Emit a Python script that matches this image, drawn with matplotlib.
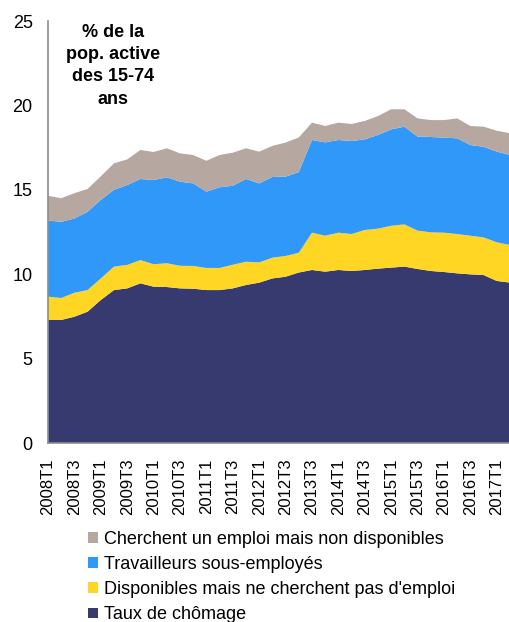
import matplotlib
matplotlib.use("Agg")
import matplotlib.pyplot as plt
from matplotlib.patches import Patch

plt.rcParams['font.family'] = ['Liberation Sans', 'DejaVu Sans']

# quarters (a gap in the source around the 2013 series break)
quarters = ['2008T1', '2008T2', '2008T3', '2008T4',
            '2009T1', '2009T2', '2009T3', '2009T4',
            '2010T1', '2010T2', '2010T3', '2010T4',
            '2011T1', '2011T2', '2011T3', '2011T4',
            '2012T1', '2012T2', '2012T3', '2012T4',
            '2013T3', '2013T4',
            '2014T1', '2014T2', '2014T3', '2014T4',
            '2015T1', '2015T2', '2015T3', '2015T4',
            '2016T1', '2016T2', '2016T3', '2016T4',
            '2017T1', '2017T2']

# % de la population active des 15-74 ans
chomage = [7.29, 7.29, 7.48, 7.78, 8.47, 9.06, 9.16, 9.46, 9.26, 9.24, 9.16, 9.14,
           9.06, 9.06, 9.16, 9.36, 9.50, 9.75, 9.85, 10.10, 10.25, 10.15, 10.25, 10.19,
           10.25, 10.33, 10.39, 10.45, 10.31, 10.19, 10.13, 10.05, 9.99, 9.95, 9.60, 9.50]
dispo_sans_recherche = [1.38, 1.30, 1.42, 1.28, 1.28, 1.39, 1.39, 1.38, 1.33, 1.41, 1.34, 1.35,
                        1.31, 1.31, 1.40, 1.38, 1.20, 1.23, 1.23, 1.17, 2.21, 2.13, 2.21, 2.19,
                        2.37, 2.37, 2.48, 2.50, 2.27, 2.29, 2.33, 2.33, 2.29, 2.23, 2.29, 2.23]
sous_emploi = [4.51, 4.51, 4.40, 4.64, 4.65, 4.55, 4.73, 4.80, 4.99, 5.09, 4.98, 4.89,
               4.52, 4.78, 4.68, 4.90, 4.68, 4.78, 4.70, 4.78, 5.49, 5.53, 5.49, 5.51,
               5.37, 5.55, 5.71, 5.79, 5.57, 5.65, 5.63, 5.67, 5.37, 5.37, 5.37, 5.33]
recherche_non_dispo = [1.47, 1.40, 1.50, 1.35, 1.40, 1.57, 1.52, 1.72, 1.66, 1.72, 1.68, 1.68,
                       1.83, 1.91, 1.96, 1.82, 1.88, 1.84, 2.02, 2.05, 1.03, 0.97, 1.03, 1.01,
                       1.09, 1.12, 1.19, 1.03, 1.08, 1.00, 1.04, 1.18, 1.13, 1.19, 1.24, 1.29]

labels = ['Taux de chômage',
          "Disponibles mais ne cherchent pas d'emploi",
          'Travailleurs sous-employés',
          'Cherchent un emploi mais non disponibles']
colors = ['#363a6f', '#ffd624', '#2f98f9', '#b6a8a1']

fig = plt.figure(figsize=(5.10, 6.22), dpi=100)
ax = fig.add_axes([48/510, 179/622, 462/510, 422/622])

x = list(range(len(quarters)))
ax.stackplot(x, chomage, dispo_sans_recherche, sous_emploi, recherche_non_dispo,
             colors=colors, linewidth=0)

ax.set_xlim(0, len(quarters) - 1)
ax.set_ylim(0, 25)
ax.set_yticks([0, 5, 10, 15, 20, 25])
ax.set_xticks(x[::2])
ax.set_xticklabels(quarters[::2], rotation=90)
ax.tick_params(axis='y', length=0, pad=11, labelsize=13)
ax.tick_params(axis='x', length=0, pad=11, labelsize=12)

for s in ['top', 'right']:
    ax.spines[s].set_visible(False)
for s in ['left', 'bottom']:
    ax.spines[s].set_color('#8c8c8c')
    ax.spines[s].set_linewidth(1.2)

fig.text(113/510, 1 - 24/622, '% de la\npop. active\ndes 15-74\nans',
         ha='center', va='top', fontsize=13, fontweight='bold', linespacing=1.4)

handles = [Patch(facecolor=c) for c in colors][::-1]
fig.legend(handles, labels[::-1], loc='upper left', bbox_to_anchor=(88/510, 1 - 531/622),
           frameon=False, fontsize=13, handlelength=0.55, handleheight=0.55,
           handletextpad=0.35, labelspacing=0.45, borderpad=0, borderaxespad=0)

fig.savefig('out.png', dpi=100)
